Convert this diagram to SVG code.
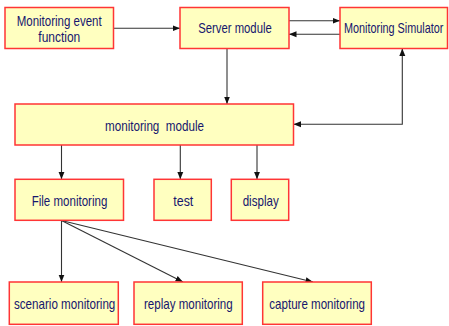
<svg xmlns="http://www.w3.org/2000/svg" width="449" height="326" viewBox="0 0 449 326">
  <style>
    .box { fill: #FFFFC0; stroke: #FF3535; stroke-width: 1.5; }
    .lbl { font-family: "Liberation Sans", Arial, sans-serif; font-size: 14.5px; fill: #16166E; }
    .wire { fill: none; stroke: #333333; stroke-width: 1.1; }
  </style>
  <defs>
    <marker id="tip" markerUnits="userSpaceOnUse" markerWidth="8" markerHeight="8" viewBox="0 0 8 8" refX="7.5" refY="4" orient="auto-start-reverse">
      <path d="M0,1 L7.5,4 L0,7 Z" fill="#111111"/>
    </marker>
  </defs>
  <rect width="449" height="326" fill="#FFFFFF"/>

  <g id="connectors">
    <line class="wire" x1="113.5" y1="28.3" x2="180" y2="28.3" marker-end="url(#tip)"/>
    <line class="wire" x1="289" y1="20.7" x2="340" y2="20.7" marker-end="url(#tip)"/>
    <line class="wire" x1="340" y1="34.3" x2="289" y2="34.3" marker-end="url(#tip)"/>
    <line class="wire" x1="227" y1="48.5" x2="227" y2="104" marker-end="url(#tip)"/>
    <path class="wire" d="M402.3,48.5 V124.3 H293.5" marker-start="url(#tip)" marker-end="url(#tip)"/>
    <line class="wire" x1="61.5" y1="145" x2="61.5" y2="179.3" marker-end="url(#tip)"/>
    <line class="wire" x1="180.3" y1="145" x2="180.3" y2="179.3" marker-end="url(#tip)"/>
    <line class="wire" x1="257" y1="145" x2="257" y2="179.3" marker-end="url(#tip)"/>
    <line class="wire" x1="61.5" y1="220.5" x2="61.5" y2="282" marker-end="url(#tip)"/>
    <line class="wire" x1="61.5" y1="220.5" x2="183" y2="282" marker-end="url(#tip)"/>
    <line class="wire" x1="61.5" y1="220.5" x2="313" y2="282" marker-end="url(#tip)"/>
  </g>

  <g id="event-function">
    <rect class="box" x="5" y="7.5" width="108.5" height="41"/>
    <text class="lbl" x="16.7" y="25.5" textLength="85" lengthAdjust="spacingAndGlyphs">Monitoring event</text>
    <text class="lbl" x="38.3" y="42" textLength="42" lengthAdjust="spacingAndGlyphs">function</text>
  </g>

  <g id="server-module">
    <rect class="box" x="180" y="7.5" width="109" height="41"/>
    <text class="lbl" x="198.3" y="33.3" textLength="73.4" lengthAdjust="spacingAndGlyphs">Server module</text>
  </g>

  <g id="simulator">
    <rect class="box" x="340" y="7.5" width="107.5" height="41"/>
    <!-- condensed horizontally so the label fits inside the narrow box -->
    <text class="lbl" transform="translate(344 33.3) scale(0.748 1)">Monitoring Simulator</text>
  </g>

  <g id="monitoring-module">
    <rect class="box" x="15" y="104" width="278.5" height="41"/>
    <text class="lbl" x="105" y="130.7" textLength="99" lengthAdjust="spacingAndGlyphs" xml:space="preserve">monitoring  module</text>
  </g>

  <g id="file-monitoring">
    <rect class="box" x="15" y="179.3" width="108.5" height="41"/>
    <text class="lbl" x="31.7" y="206" textLength="75.6" lengthAdjust="spacingAndGlyphs">File monitoring</text>
  </g>

  <g id="test">
    <rect class="box" x="154" y="179.3" width="57.3" height="41"/>
    <text class="lbl" x="173.3" y="206" textLength="20" lengthAdjust="spacingAndGlyphs">test</text>
  </g>

  <g id="display">
    <rect class="box" x="231.3" y="179.3" width="57.4" height="41"/>
    <text class="lbl" x="242.7" y="206" textLength="36" lengthAdjust="spacingAndGlyphs">display</text>
  </g>

  <g id="scenario-monitoring">
    <rect class="box" x="9.3" y="282" width="109" height="42.3"/>
    <text class="lbl" x="14" y="309.3" textLength="101.3" lengthAdjust="spacingAndGlyphs">scenario monitoring</text>
  </g>

  <g id="replay-monitoring">
    <rect class="box" x="134" y="282" width="108.3" height="42.3"/>
    <text class="lbl" x="144" y="309.3" textLength="88.7" lengthAdjust="spacingAndGlyphs">replay monitoring</text>
  </g>

  <g id="capture-monitoring">
    <rect class="box" x="262.7" y="282" width="108.6" height="42.3"/>
    <text class="lbl" x="269.3" y="309.3" textLength="95.7" lengthAdjust="spacingAndGlyphs">capture monitoring</text>
  </g>
</svg>
